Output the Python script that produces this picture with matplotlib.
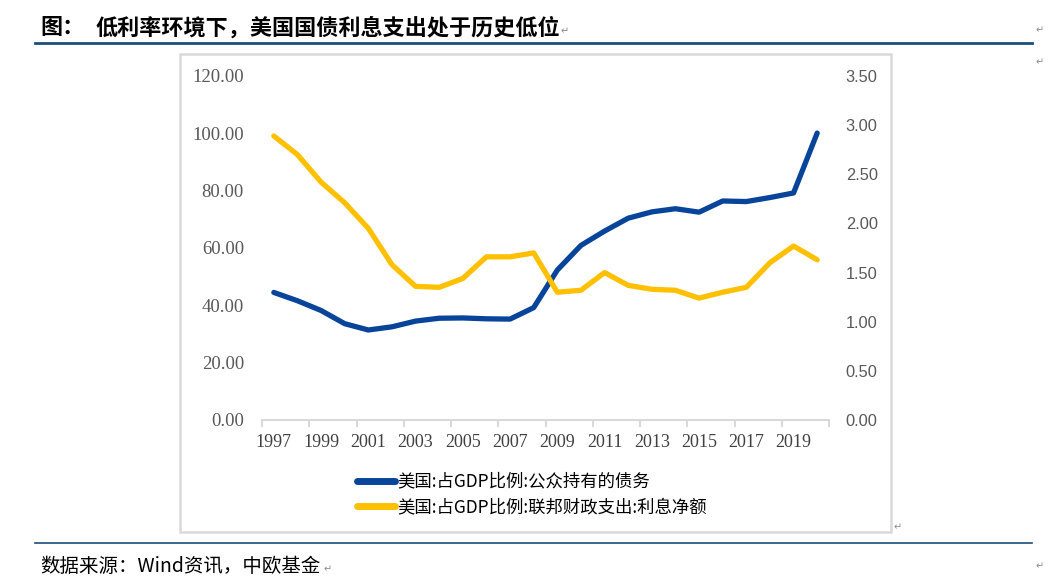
import matplotlib
matplotlib.use("Agg")
import matplotlib.pyplot as plt
from matplotlib.patches import Rectangle
from matplotlib.lines import Line2D

# ---------------------------------------
# Data
# ---------------------------------------

years = list(range(1997, 2021))

# 美国:占GDP比例:公众持有的债务 (left axis, %)
debt_public = [44.5, 41.6, 38.2, 33.6, 31.4, 32.5, 34.5, 35.5, 35.6, 35.3, 35.2, 39.2,
               52.3, 60.9, 65.9, 70.4, 72.6, 73.7, 72.5, 76.4, 76.2, 77.6, 79.2, 100.1]

# 美国:占GDP比例:联邦财政支出:利息净额 (right axis, %)
net_interest = [2.89, 2.70, 2.42, 2.21, 1.95, 1.58, 1.36, 1.35, 1.44, 1.66, 1.66, 1.70,
                1.30, 1.32, 1.50, 1.37, 1.33, 1.32, 1.24, 1.30, 1.35, 1.60, 1.77, 1.63]

left_ticks = [0, 20, 40, 60, 80, 100, 120]
right_ticks = [0, 0.5, 1.0, 1.5, 2.0, 2.5, 3.0, 3.5]

title_head = "图："
title = "低利率环境下，美国国债利息支出处于历史低位"
source = "数据来源：Wind资讯，中欧基金"
label_debt = "美国:占GDP比例:公众持有的债务"
label_interest = "美国:占GDP比例:联邦财政支出:利息净额"

BLUE = "#07449A"
YELLOW = "#FFC000"
GRAY_TXT = "#595959"
GRAY_LINE = "#D9D9D9"
NAVY = "#1B4F7A"

W, H = 1055, 582
cjk = ["Noto Sans CJK SC", "DejaVu Sans"]


def px(x, y):
    return x / W, 1 - y / H


fig = plt.figure(figsize=(W / 100, H / 100), dpi=100)

# ---------------------------------------
# Page decoration
# ---------------------------------------

fig.text(*px(40, 28), title_head, family=cjk, fontsize=15.9, fontweight="bold",
         va="center", ha="left", color="black")
fig.text(*px(96, 28), title, family=cjk, fontsize=15.9, fontweight="bold",
         va="center", ha="left", color="black")
fig.add_artist(Line2D([35 / W, 1032 / W], [px(0, 42.5)[1]] * 2, color=NAVY, lw=2))
fig.add_artist(Line2D([35 / W, 1032 / W], [px(0, 543)[1]] * 2, color=NAVY, lw=1.2))
fig.text(*px(40, 567), source, family=cjk, fontsize=14, va="center", ha="left")

for x, y in [(561, 31), (1036, 30), (1036, 62), (894, 527), (1036, 566), (324, 569)]:
    fig.text(*px(x, y), "↵", fontsize=7, color="#8C8C8C", va="center", ha="left",
             family="DejaVu Sans")

x0, y0 = px(180, 532)
x1, y1 = px(891, 54)
fig.add_artist(Rectangle((x0, y0), x1 - x0, y1 - y0, transform=fig.transFigure,
                         fill=False, edgecolor=GRAY_LINE, lw=1.8))

# ---------------------------------------
# Chart
# ---------------------------------------

left, bottom = px(262, 420)
right, top = px(829, 76)
ax = fig.add_axes([left, bottom, right - left, top - bottom])
ax2 = ax.twinx()

xs = list(range(len(years)))
ax.plot(xs, debt_public, color=BLUE, lw=3.8, solid_capstyle="round",
        solid_joinstyle="round", zorder=3)
ax2.plot(xs, net_interest, color=YELLOW, lw=3.8, solid_capstyle="round",
         solid_joinstyle="round", zorder=3)

ax.set_xlim(-0.5, len(years) - 0.5)
ax.set_ylim(0, 120)
ax2.set_ylim(0, 3.5)

ax.set_yticks(left_ticks)
ax.set_yticklabels([f"{v:.2f}" for v in left_ticks], family="Liberation Serif",
                   fontsize=13.5, color=GRAY_TXT)
ax2.set_yticks(right_ticks)
ax2.set_yticklabels([f"{v:.2f}" for v in right_ticks], family="Liberation Sans",
                    fontsize=11.8, color=GRAY_TXT)

ax.set_xticks(xs[::2])
ax.set_xticklabels([str(y) for y in years[::2]], family="Liberation Serif",
                   fontsize=13, color="#404040")
ax.set_xticks([i - 0.5 for i in range(0, len(years) + 1, 2)], minor=True)

ax.tick_params(axis="y", length=0, pad=13)
ax2.tick_params(axis="y", length=0, pad=12)
ax.tick_params(axis="x", which="major", length=0, pad=10)
ax.tick_params(axis="x", which="minor", length=5, width=1.5, color=GRAY_LINE,
               direction="out")

for a in (ax, ax2):
    for side in ("top", "left", "right"):
        a.spines[side].set_visible(False)
    a.patch.set_visible(False)
ax2.spines["bottom"].set_visible(False)
ax.spines["bottom"].set_color(GRAY_LINE)
ax.spines["bottom"].set_linewidth(1.5)

handles = [Line2D([], [], color=BLUE, lw=5, solid_capstyle="round"),
           Line2D([], [], color=YELLOW, lw=5, solid_capstyle="round")]
fig.legend(handles, [label_debt, label_interest], loc="upper left",
           bbox_to_anchor=px(348, 464), frameon=False,
           prop={"family": cjk, "size": 12.5}, handlelength=2.2,
           handletextpad=0.15, labelspacing=0.45, borderpad=0)

fig.savefig("out.png", dpi=100)
